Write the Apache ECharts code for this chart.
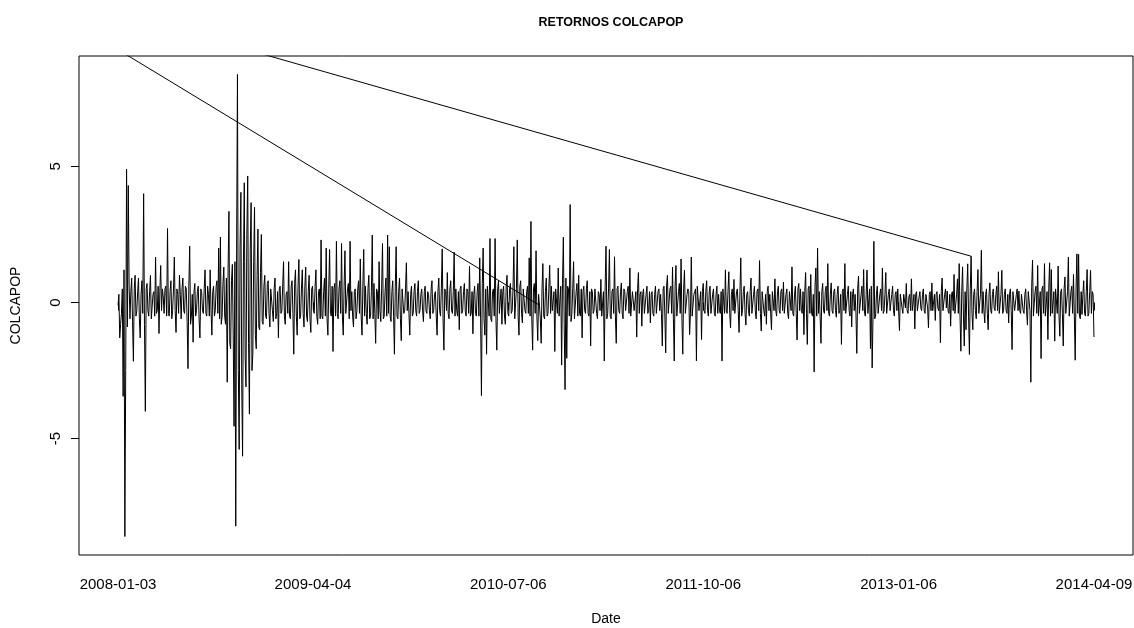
<!DOCTYPE html>
<html><head><meta charset="utf-8">
<script src="https://cdn.jsdelivr.net/npm/echarts@6/dist/echarts.min.js"></script>
<style>html,body{margin:0;padding:0;background:#fff}#c{width:1134px;height:628px}</style>
</head><body><div id="c"></div>
<script>
// Main readings every 4 calendar days from startDate; mid readings 2 days after each main reading
const startDate = '2008-01-03';
const stepDays = 4;
const returns2008 = [
-0.1,-1.3,-0.4,-3.45,-8.6,4.9,4.3,-0.6,0.9,-2.16,
1.0,-0.3,0.9,-1.3,0.8,4.0,-4.0,0.7,-0.5,1.0,
-0.6,0.4,1.67,-0.3,-1.14,1.36,0.5,-0.4,0.6,2.72,
-0.5,0.8,-0.3,1.67,-1.1,0.3,1.0,-0.6,0.9,-0.4,
0.5,-2.43,2.07,-0.5,-1.46,0.7,-0.3,0.6,-1.3,0.4,
-0.4,1.2,-0.5,0.3,1.2,-1.2,0.6,-0.3,0.8,2.0,
2.4,-0.5,1.3,-0.8,-2.93,3.35,-1.7,1.4,-4.55,-8.22,
8.38,-5.4,4.05,-5.65,4.4,-3.1,4.65,-4.1,3.67,-1.9,
3.5,-1.7,2.7,-1.0,2.5,-0.8,1.0,-0.6,0.8,-0.9,
0.5,-0.7,0.9,-0.4,-1.3,0.6,-0.3,1.5,-0.8,0.4];
const returns2009 = [
1.5,-0.6,0.8,-1.9,1.2,-1.2,1.58,-0.5,1.2,-0.9,
1.3,-0.7,1.0,-1.1,0.6,-0.4,1.2,-0.8,0.5,2.3,
-0.6,0.9,2.0,-1.2,1.95,-0.5,-1.8,0.7,2.25,-0.6,
0.8,2.17,-1.2,1.9,-0.4,0.7,2.25,0.4,-0.9,0.5,
-0.3,0.8,1.6,-1.2,1.95,0.6,-0.8,1.0,-0.5,2.48,
0.7,-1.5,0.4,1.5,-0.7,2.17,-0.5,0.9,2.48,2.05,
-0.7,0.8,-1.9,2.05,-0.6,0.9,-1.4,0.5,-0.3,1.46,
0.4,-1.2,0.6,-0.4,0.7,-0.5,0.8,-0.3,0.5,-0.7,
0.6,-0.4,0.3,-0.6,0.8,-0.3,0.4,-1.2,0.9,-0.5,
1.97,-1.75,0.4,1.1,-0.6,0.8,-0.4,1.85,0.5,-0.5];
const returns2010 = [
-1.0,0.6,-0.3,0.7,-0.5,0.4,1.33,-0.4,-1.15,0.6,
-0.5,0.7,1.64,-3.42,2.0,-1.2,-1.9,0.6,2.35,-0.7,
0.5,2.35,-1.75,0.8,-0.4,-0.8,0.6,-0.8,1.0,-0.5,
0.7,-0.3,2.05,-0.6,2.3,-1.2,0.8,-0.75,0.5,-0.4,
0.6,1.64,2.98,-1.75,0.7,1.9,-1.4,-0.1,-1.5,1.43,
-0.6,0.9,-0.4,1.37,0.6,-0.3,-1.8,0.5,1.27,-0.5,
-2.3,2.4,-3.2,-2.05,0.5,3.6,-0.4,1.5,-0.6,0.7,
1.0,-0.5,-1.3,0.6,-0.4,0.8,-0.5,-1.6,0.4,-0.3,
0.5,-0.6,0.3,0.85,-0.5,-2.15,2.07,-0.4,1.95,-0.6,
0.5,1.68,-1.5,0.6,-0.4,0.72,-0.6,0.4,-0.3,0.6];
const returns2011 = [
1.27,-0.5,0.4,-0.3,-1.27,1.1,0.3,-0.87,0.5,-0.4,
0.6,-0.3,-0.75,0.4,-0.5,0.6,-0.4,0.5,0.3,-1.6,
0.6,-1.85,1.0,-0.4,0.6,1.3,-2.15,1.36,-0.5,0.7,
1.6,-1.9,1.19,-0.4,0.5,-1.18,1.67,-0.5,0.4,-2.15,
0.6,-0.3,-1.36,0.7,-0.4,0.8,-0.5,0.6,-0.4,0.5,
-0.5,0.6,0.3,-0.4,-2.15,0.5,1.2,-0.4,1.13,-0.93,
0.5,0.85,-0.4,0.5,-1.1,1.64,-0.3,0.6,-0.83,0.4,
-0.5,0.9,-0.4,0.6,-0.6,0.5,1.54,-1.05,0.4,-0.5,
-0.8,0.6,0.3,-1.0,0.4,0.87,-0.5,0.6,-0.4,0.5,
0.75,-0.4,0.5,-0.6,0.4,1.31,-0.5,0.6,-1.38,0.7];
const returns2012 = [
0.5,-0.4,-1.18,1.1,-1.54,0.6,1.03,-0.5,-2.55,1.27,
2.0,0.4,-1.5,0.7,-0.4,0.6,1.43,-0.5,0.72,-0.4,
0.5,-0.54,0.6,-0.3,-1.54,0.5,1.43,-0.4,0.6,-0.5,
-0.9,0.5,0.3,-1.87,0.97,-0.4,0.6,1.21,-0.5,1.19,
-0.4,-1.7,-2.4,2.25,-0.5,0.6,-0.4,0.5,1.27,-0.3,
1.1,-0.4,0.5,-0.3,0.6,-0.5,0.4,0.5,-1.03,0.3,
-0.4,0.3,0.7,-0.4,0.3,0.87,-0.3,-0.97,0.4,-0.3,
0.4,-0.3,0.5,-0.4,0.3,-0.93,0.4,0.72,-0.3,-0.66,
0.4,-0.3,-1.48,0.9,-0.3,0.5,0.42,-0.4,-0.87,0.4,
1.03,-0.4,0.87,1.43,-1.79,1.31,-1.6,-1.0,1.42,-1.91];
const returns2013 = [
1.70,-1.0,0.5,-0.6,1.21,-0.4,1.92,0.4,-0.75,0.5,
-1.0,0.72,-0.4,0.5,-0.3,0.6,1.13,-0.4,1.18,-0.3,
0.5,-0.4,-0.75,0.5,-1.73,0.4,-0.3,0.5,0.42,-0.4,
0.3,-0.4,0.5,-0.83,0.4,-2.93,1.56,-0.5,0.6,1.36,
-0.5,-2.06,0.6,1.43,-0.5,-1.36,1.46,1.21,-0.4,-1.42,
0.5,1.34,-1.24,0.5,-1.6,0.94,-0.4,1.67,-0.5,0.6,
1.03,-2.12,1.79,1.77,-0.6,-0.44,0.8,-0.5,1.21,-0.4,
1.18,0.4,-1.27];
const midReturns2008 = [
0.3,-0.8,0.5,1.2,-2.5,-0.9,0.6,0.4,-0.7,0.5,
-0.5,0.4,-0.6,0.3,-0.4,-0.8,0.5,-0.3,0.4,-0.6,
0.3,-0.5,-0.4,0.6,0.4,-0.3,0.2,0.5,-0.5,-0.4,
0.4,-0.6,0.5,-0.3,0.5,-0.4,0.3,0.5,-0.3,0.6,
-0.7,0.6,-0.8,0.3,0.4,-0.5,0.4,-0.6,0.5,-0.3,
0.5,-0.4,0.6,-0.5,-0.3,0.4,-0.5,0.6,-0.4,-0.6,
-0.8,0.7,-0.5,0.9,1.2,-1.5,0.8,-1.2,1.5,2.0,
-2.5,2.0,-3.0,1.5,-2.0,2.5,-1.5,2.0,-2.5,1.5,
-1.2,1.0,-0.9,1.1,-0.7,0.6,-0.5,0.7,-0.4,0.5,
-0.3,0.5,-0.6,0.4,0.5,-0.4,0.6,-0.5,0.3,-0.4];
const midReturns2009 = [
-0.5,0.6,-0.4,0.7,-0.5,0.6,-0.6,0.5,-0.4,0.6,
-0.5,0.4,-0.6,0.5,-0.3,0.6,-0.5,0.4,-0.6,-0.5,
0.4,-0.5,-0.6,0.5,-0.4,0.6,0.5,-0.5,-0.4,0.5,
-0.4,-0.5,0.6,-0.4,0.5,-0.6,-0.3,-0.5,0.4,-0.6,
0.5,-0.4,-0.5,0.6,-0.5,-0.4,0.5,-0.6,0.4,-0.6,
-0.4,0.5,-0.6,-0.3,0.5,-0.6,0.4,-0.5,-0.4,-0.5,
0.4,-0.5,0.6,-0.5,0.4,-0.6,0.5,-0.4,0.5,-0.3,
-0.4,0.3,-0.5,0.4,-0.3,0.4,-0.4,0.3,-0.3,0.4,
-0.3,0.4,-0.3,0.5,-0.4,0.3,-0.5,0.4,-0.3,0.5,
-0.6,0.5,-0.3,-0.4,0.5,-0.3,0.4,-0.5,-0.3,0.4];
const midReturns2010 = [
0.5,-0.4,0.4,-0.3,0.5,-0.4,-0.5,0.4,0.3,-0.4,
0.4,-0.5,-0.6,0.7,-0.6,0.5,0.6,-0.5,-0.6,0.4,
-0.5,-0.6,0.5,-0.4,0.5,0.4,-0.5,0.6,-0.4,0.5,
-0.4,0.5,-0.6,0.5,-0.5,0.6,-0.4,0.5,-0.3,0.4,
-0.4,-0.5,-0.6,0.5,-0.4,-0.5,0.3,-0.6,0.5,-0.5,
0.4,-0.5,0.5,-0.4,-0.3,0.4,0.5,-0.4,-0.5,0.6,
0.7,-0.8,0.9,0.6,-0.5,-0.7,0.5,-0.6,0.4,-0.5,
-0.4,0.5,0.4,-0.3,0.5,-0.4,0.4,0.5,-0.4,0.5,
-0.4,0.4,-0.3,-0.5,0.4,0.6,-0.6,0.5,-0.5,0.4,
-0.4,-0.5,0.5,-0.3,0.4,-0.4,0.5,-0.3,0.4,-0.4];
const midReturns2011 = [
-0.5,0.4,-0.3,0.4,0.5,-0.4,0.4,0.3,-0.4,0.3,
-0.4,0.4,0.3,-0.4,0.3,-0.4,0.4,-0.3,-0.4,0.5,
-0.5,0.6,-0.4,0.5,-0.4,-0.6,0.6,-0.5,0.4,-0.4,
-0.6,0.5,-0.4,0.3,0.4,-0.4,-0.5,0.3,0.5,0.6,
-0.3,0.4,0.4,-0.3,0.4,-0.3,0.4,-0.4,0.3,-0.4,
0.3,-0.4,-0.3,0.4,0.5,-0.4,-0.3,0.4,-0.4,0.3,
-0.3,-0.4,0.4,-0.3,0.4,-0.5,0.4,-0.4,0.3,-0.3,
0.4,-0.4,0.3,-0.3,0.4,-0.3,-0.4,0.4,-0.3,0.3,
0.4,-0.3,-0.4,0.4,-0.3,-0.3,0.4,-0.3,0.4,-0.3,
-0.4,0.3,-0.4,0.4,-0.3,-0.4,0.3,-0.4,0.5,-0.3];
const midReturns2012 = [
-0.3,0.4,0.4,-0.4,0.5,-0.4,-0.4,0.3,0.6,-0.5,
-0.4,-0.5,0.4,-0.3,0.4,-0.3,-0.4,0.3,-0.3,0.4,
-0.3,0.3,-0.4,0.3,0.4,-0.3,-0.4,0.3,-0.3,0.4,
0.3,-0.3,-0.4,0.5,-0.4,0.3,-0.3,-0.4,0.3,-0.4,
0.5,0.6,-0.5,-0.6,0.3,-0.4,0.3,-0.3,-0.4,0.3,
-0.4,0.3,-0.3,0.3,-0.3,0.3,-0.3,-0.3,0.3,-0.2,
0.3,-0.2,-0.3,0.2,-0.3,-0.3,0.3,0.3,-0.3,0.2,
-0.2,0.3,-0.3,0.3,-0.2,0.3,-0.3,-0.3,0.3,0.3,
-0.2,0.3,0.4,-0.3,0.3,-0.2,-0.3,0.3,0.3,-0.3,
-0.4,0.3,-0.4,-0.5,0.4,-0.5,0.4,0.5,-0.5,0.5];
const midReturns2013 = [
-0.4,0.3,-0.3,0.4,-0.4,0.3,-0.4,-0.3,0.3,-0.4,
0.3,-0.3,0.3,-0.2,0.3,-0.3,-0.4,0.3,-0.4,0.3,
-0.3,0.3,0.3,-0.3,0.4,-0.3,0.3,-0.3,-0.3,0.3,
-0.3,0.3,-0.3,0.4,-0.3,0.6,-0.5,0.4,-0.4,-0.5,
0.4,0.5,-0.4,-0.5,0.4,0.5,-0.5,-0.4,0.4,0.5,
-0.4,-0.5,0.4,-0.4,0.5,-0.4,0.4,-0.5,0.4,-0.4,
-0.5,0.5,-0.4,-0.5,0.4,0.3,-0.4,0.4,-0.5,0.4,
-0.4,0.3];
// misplaced record that makes the line jump out of the plot
const outlierDate = '2007-04-09';
const outlierValue = 11.85;
const jumpFromIndex = 500;
const jumpToIndex = 247;
const tickLabels = ['2008-01-03','2009-04-04','2010-07-06','2011-10-06','2013-01-06','2014-04-09'];
const yTickValues = [-5, 0, 5];

const DAY = 86400000;
const toMs = s => { const p = s.split('-').map(Number); return Date.UTC(p[0], p[1]-1, p[2]); };
const fmt = ms => { const d = new Date(ms); const z = n => (n<10?'0':'')+n; return d.getUTCFullYear()+'-'+z(d.getUTCMonth()+1)+'-'+z(d.getUTCDate()); };

const mainValues = [].concat(returns2008, returns2009, returns2010, returns2011, returns2012, returns2013);
const midValues = [].concat(midReturns2008, midReturns2009, midReturns2010, midReturns2011, midReturns2012, midReturns2013);
const t0 = toMs(startDate);
const mainPoints = mainValues.map((v, i) => [t0 + i*stepDays*DAY, v]);
const points = [];
mainPoints.forEach((p, i) => {
  points.push(p);
  if (i < midValues.length) points.push([p[0] + (stepDays/2)*DAY, midValues[i]]);
});
const artifact = [mainPoints[jumpFromIndex], [toMs(outlierDate), outlierValue], mainPoints[jumpToIndex]];

const allValues = mainValues.concat(midValues);
const tickMs = tickLabels.map(toMs);
const xLo = mainPoints[0][0], xHi = mainPoints[mainPoints.length-1][0];
const xPad = 0.04*(xHi - xLo);
const vMin = Math.min(...allValues), vMax = Math.max(...allValues);
const yPad = 0.04*(vMax - vMin);

const FONT = 'Liberation Sans, Arial, Helvetica, sans-serif';
const chart = echarts.init(document.getElementById('c'), null, {renderer:'canvas'});
chart.setOption({
  animation: false,
  backgroundColor: '#fff',
  title: {
    text: 'RETORNOS COLCAPOP', left: 606, top: 11, textAlign: 'center',
    textStyle: {fontFamily: FONT, fontWeight: 'bold', fontSize: 12.5, color: '#000'}
  },
  grid: {left: 79, right: 1, top: 56, bottom: 73, show: true, borderColor: '#000', borderWidth: 1,
         containLabel: false, outerBoundsMode: 'none'},
  xAxis: {
    type: 'value', min: xLo - xPad, max: xHi + xPad,
    axisLine: {show: false}, splitLine: {show: false},
    axisTick: {show: true, customValues: tickMs, length: 8, lineStyle: {color: '#000', width: 1}},
    axisLabel: {customValues: tickMs, formatter: v => fmt(v), color: '#000', fontSize: 15, fontFamily: FONT, margin: 22},
    name: 'Date', nameLocation: 'middle', nameGap: 57,
    nameTextStyle: {fontFamily: FONT, fontSize: 14, color: '#000'}
  },
  yAxis: {
    type: 'value', min: vMin - yPad, max: vMax + yPad,
    axisLine: {show: false}, splitLine: {show: false},
    axisTick: {show: true, customValues: yTickValues, length: 8, lineStyle: {color: '#000', width: 1}},
    axisLabel: {customValues: yTickValues, rotate: 90, color: '#000', fontSize: 15, fontFamily: FONT, margin: 16},
    name: 'COLCAPOP', nameLocation: 'middle', nameGap: 56, nameRotate: 90,
    nameTextStyle: {fontFamily: FONT, fontSize: 14, color: '#000'}
  },
  series: [
    {type: 'line', data: points, symbol: 'none', showSymbol: false, clip: true,
     lineStyle: {color: '#000', width: 1}},
    {type: 'line', data: artifact, symbol: 'none', showSymbol: false, clip: true,
     lineStyle: {color: '#000', width: 1}}
  ]
});
</script></body></html>
